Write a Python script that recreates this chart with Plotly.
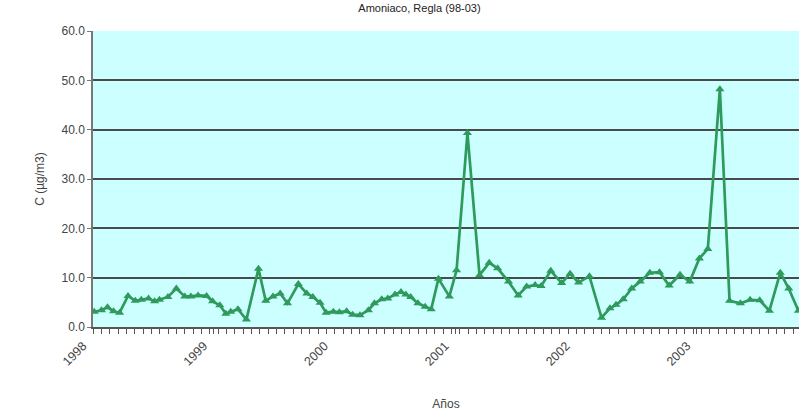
import plotly.graph_objects as go

# decimal-year sampling times and concentrations (µg/m3)
t = [1998.01, 1998.07, 1998.12, 1998.17, 1998.22, 1998.29, 1998.35, 1998.40, 1998.46, 1998.51,
     1998.55, 1998.62, 1998.69, 1998.76, 1998.81, 1998.87, 1998.94, 1998.99, 1999.05, 1999.10,
     1999.14, 1999.20, 1999.27, 1999.37, 1999.43, 1999.49, 1999.55, 1999.61, 1999.70, 1999.77,
     1999.82, 1999.88, 1999.93, 1999.99, 2000.04, 2000.10, 2000.15, 2000.21, 2000.28, 2000.33,
     2000.39, 2000.44, 2000.50, 2000.55, 2000.59, 2000.63, 2000.69, 2000.75, 2000.80, 2000.86,
     2000.95, 2001.01, 2001.10, 2001.20, 2001.28, 2001.35, 2001.44, 2001.52, 2001.59, 2001.66,
     2001.71, 2001.79, 2001.88, 2001.95, 2002.02, 2002.11, 2002.21, 2002.28, 2002.33, 2002.39,
     2002.46, 2002.53, 2002.61, 2002.69, 2002.77, 2002.86, 2002.94, 2003.02, 2003.09, 2003.19,
     2003.27, 2003.36, 2003.44, 2003.52, 2003.60, 2003.69, 2003.76, 2003.84]
c = [3.1, 3.4, 4.0, 3.2, 2.9, 6.3, 5.3, 5.5, 5.8, 5.2,
     5.5, 6.1, 7.8, 6.2, 6.2, 6.4, 6.3, 5.2, 4.4, 2.7,
     3.1, 3.6, 1.5, 11.8, 5.3, 6.2, 6.8, 4.8, 8.7, 6.8,
     6.1, 4.9, 2.9, 3.1, 3.0, 3.2, 2.5, 2.4, 3.4, 4.8,
     5.6, 5.8, 6.6, 7.1, 6.6, 6.1, 4.8, 4.1, 3.6, 9.8,
     6.2, 11.5, 39.3, 10.5, 13.0, 11.9, 9.2, 6.4, 8.2, 8.5,
     8.3, 11.4, 8.9, 10.8, 9.0, 10.3, 1.9, 3.8, 4.5, 5.6,
     7.8, 9.2, 11.0, 11.1, 8.4, 10.6, 9.2, 13.9, 15.8, 48.2,
     5.3, 4.8, 5.5, 5.4, 3.3, 11.0, 7.8, 3.3]

year_ticks = [1998, 1999, 2000, 2001, 2002, 2003]
year_labels = ["1998", "1999", "2000", "2001", "2002", "2003"]
y_ticks = [0, 10, 20, 30, 40, 50, 60]
y_labels = ["0.0", "10.0", "20.0", "30.0", "40.0", "50.0", "60.0"]

fig = go.Figure()
fig.add_trace(go.Scatter(
    x=t, y=c, mode="lines+markers",
    line=dict(color="#2e9a5c", width=2.7),
    marker=dict(symbol="triangle-up", size=8, color="#2e9a5c"),
    showlegend=False, cliponaxis=True,
))

font = "Liberation Sans, Arial, sans-serif"
fig.update_layout(
    width=799, height=414,
    margin=dict(l=93, r=0, t=31, b=87, autoexpand=False),
    paper_bgcolor="white", plot_bgcolor="#ccffff",
    font=dict(family=font, color="#333333", size=12),
    title=dict(text="Amoniaco, Regla (98-03)", x=0.525, xref="container", xanchor="center",
               y=0.99, yanchor="top", font=dict(size=11, color="#222222")),
)
fig.update_xaxes(
    range=[1998, 2003.845], tickmode="array", tickvals=year_ticks, ticktext=year_labels,
    tickangle=-45, showgrid=False, zeroline=False, automargin=False,
    ticklabelshift=-10,
    showline=True, linecolor="#555555", linewidth=1.5,
    ticks="outside", ticklen=5, tickcolor="#555555",
    minor=dict(ticks="outside", ticklen=5, dtick=0.069, tick0=1998, tickcolor="#555555", showgrid=False),
    tickfont=dict(size=12.5, color="#444444"),
    title=dict(text="Años", font=dict(size=12, color="#444444"), standoff=32),
)
fig.update_yaxes(
    range=[0, 60], tickmode="array", tickvals=y_ticks, ticktext=y_labels,
    showgrid=True, gridcolor="#4a4a4a", gridwidth=2, zeroline=False, automargin=False,
    showline=True, linecolor="#777777", linewidth=1.5,
    ticks="outside", ticklen=4, tickcolor="#777777",
    tickfont=dict(size=12, color="#444444"),
    title=dict(text="C (µg/m3)", font=dict(size=12, color="#444444"), standoff=14),
)

fig.write_html("out.html",
               config={"displayModeBar": False},
               post_script="document.body.style.margin='0';document.body.style.overflow='hidden';")
